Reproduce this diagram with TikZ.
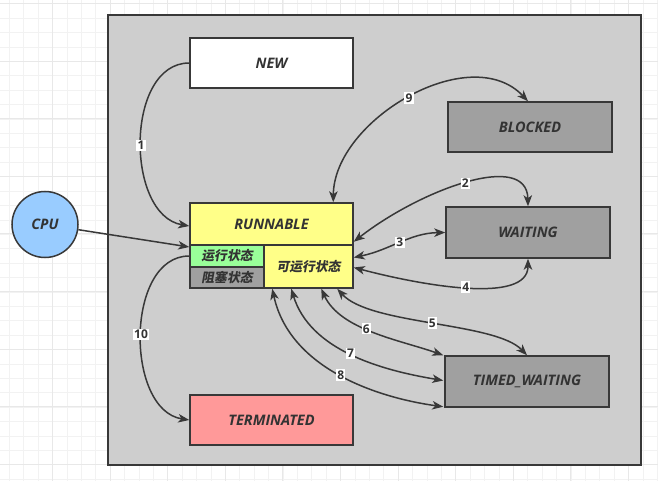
\documentclass[tikz,border=0pt]{standalone}
\usepackage{fontspec}
\setmainfont{Noto Sans}
\newfontfamily\bxf{Open Sans}
\newfontfamily\cjk{Noto Sans CJK SC}[FakeSlant=0.18]
\usetikzlibrary{arrows.meta,calc}
\definecolor{bd}{HTML}{383838}
\definecolor{txt}{HTML}{333333}
\definecolor{panel}{HTML}{CECECE}
\definecolor{grayfill}{HTML}{A0A0A0}
\definecolor{yel}{HTML}{FFFF88}
\definecolor{grn}{HTML}{99FF99}
\definecolor{pinkfill}{HTML}{FF9999}
\definecolor{cpufill}{HTML}{99CCFF}
\definecolor{gridminor}{HTML}{F2F2F2}
\definecolor{gridmajor}{HTML}{E8E8E8}
\tikzset{
  statebox/.style={draw=bd, line width=1.5pt, rectangle, inner sep=0pt,
    text=txt, font=\bxf\bfseries\itshape\fontsize{14.5}{16}\selectfont},
  subbox/.style={draw=bd, line width=1.5pt, rectangle, inner sep=0pt,
    text=txt, font=\cjk\bfseries\fontsize{12.8}{14}\selectfont},
  conn/.style={draw=bd, line width=1.5pt},
  tip/.tip={Stealth[length=11pt,width=8.5pt,inset=3pt]},
  num/.style={fill=white, inner sep=1.3pt, text=txt,
    font=\bxf\bfseries\fontsize{12}{13}\selectfont},
}
\begin{document}
\begin{tikzpicture}[x=1pt,y=-1pt]
\useasboundingbox (0,0) rectangle (658,481);
\fill[white] (0,0) rectangle (658,481);
% grid
\foreach \i in {0,...,45} {
  \draw[gridminor, line width=0.8pt] ({9.3+14.4*\i},0) -- ({9.3+14.4*\i},481);
}
\foreach \j in {0,...,33} {
  \draw[gridminor, line width=0.8pt] (0,{3.9+14.4*\j}) -- (658,{3.9+14.4*\j});
}
\foreach \i in {0,...,11} {
  \draw[gridmajor, line width=0.8pt] ({-5.3+57.6*\i},0) -- ({-5.3+57.6*\i},481);
}
\foreach \j in {0,...,8} {
  \draw[gridmajor, line width=0.8pt] (0,{3.4+57.6*\j}) -- (658,{3.4+57.6*\j});
}
% panel
\draw[draw=bd, fill=panel, line width=1.5pt] (108,15) rectangle (641,465);

% nodes
\node[statebox, fill=white, minimum width=163pt, minimum height=50pt] (new) at (271.5,63) {NEW};
\node[statebox, fill=grayfill, minimum width=164pt, minimum height=50pt] (blocked) at (530,127) {BLOCKED};
\node[statebox, fill=grayfill, minimum width=164pt, minimum height=51pt] (waiting) at (528,232.5) {WAITING};
\node[statebox, fill=grayfill, minimum width=164pt, minimum height=51pt] (timed) at (527,381.5) {TIMED\_WAITING};
\node[statebox, fill=pinkfill, minimum width=163pt, minimum height=50pt] (term) at (271.5,420) {TERMINATED};
\node[statebox, fill=yel, minimum width=163pt, minimum height=42pt] (run) at (271.5,224) {RUNNABLE};
\node[subbox, fill=grn, minimum width=74pt, minimum height=22pt] (running) at (227,256) {运行状态};
\node[subbox, fill=grayfill, minimum width=74pt, minimum height=21pt] (blockst) at (227,277.5) {阻塞状态};
\node[subbox, fill=yel, minimum width=89pt, minimum height=43pt] (ready) at (308.5,266.5) {可运行状态};
\node[circle, draw=bd, line width=1.5pt, fill=cpufill, minimum size=66pt, inner sep=0pt,
  text=txt, font=\bxf\bfseries\itshape\fontsize{14.5}{16}\selectfont] (cpu) at (45,224.5) {CPU};

% connection points
\coordinate (r1) at ($(run.west)+(0,2)$);
\coordinate (rcpu) at ($(running.west)+(0,-9)$);
\coordinate (r10) at ($(running.west)+(0,0)$);
\coordinate (r9) at ($(run.north west)+(144,0)$);
\coordinate (r2) at ($(run.south east)+(0,-4)$);
\coordinate (r3) at ($(ready.east)+(0,-9)$);
\coordinate (r4) at ($(ready.east)+(0,1)$);
\coordinate (r5) at ($(ready.south west)+(74,0)$);
\coordinate (r6) at ($(ready.south west)+(58,0)$);
\coordinate (r7) at ($(ready.south west)+(28,0)$);
\coordinate (r8) at ($(ready.south west)+(9,0)$);
\coordinate (b9) at ($(blocked.north)+(-2,0)$);
\coordinate (t6) at ($(timed.north west)+(-1,0)$);
\coordinate (t7) at ($(timed.west)+(-1,-1)$);
\coordinate (t8) at ($(timed.south west)+(-1,-1)$);

% connectors
\draw[conn, -tip] (new.west) .. controls (125,63) and (125,215) .. (r1)
  node[num, pos=0.52] {1};
\draw[conn, -tip] (cpu) -- (rcpu);
\draw[conn, -tip] (r10) .. controls (125,256) and (125,410) .. (term.west)
  node[num, pos=0.5] {10};
\draw[conn, tip-tip] (r9) .. controls (334,120) and (470,40) .. (b9)
  node[num, pos=0.5] {9};
\draw[conn, tip-tip] (r2) .. controls (420,190) and (527,150) .. (waiting.north)
  node[num, pos=0.5] {2};
\draw[conn, tip-tip] (r3) .. controls (390,250) and (410,233) .. (waiting.west)
  node[num, pos=0.5] {3};
\draw[conn, tip-tip] (r4) .. controls (420,285) and (528,305) .. (waiting.south)
  node[num, pos=0.5] {4};
\draw[conn, tip-tip] (r5) .. controls (370,325) and (495,322) .. (timed.north)
  node[num, pos=0.5] {5};
\draw[conn, tip-tip] (r6) .. controls (340,330) and (400,340) .. (t6)
  node[num, pos=0.45] {6};
\draw[conn, tip-tip] (r7) .. controls (310,350) and (380,370) .. (t7)
  node[num, pos=0.5] {7};
\draw[conn, tip-tip] (r8) .. controls (290,370) and (380,398) .. (t8)
  node[num, pos=0.5] {8};
\end{tikzpicture}
\end{document}
